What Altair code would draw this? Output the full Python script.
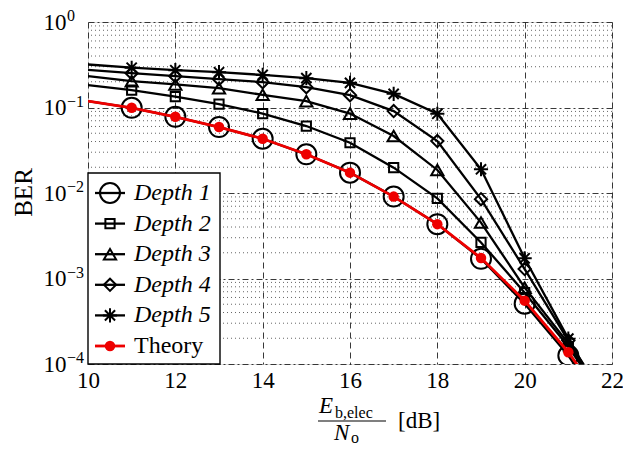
import altair as alt
import pandas as pd

# ---------------- data ----------------
ebno = [10, 11, 12, 13, 14, 15, 16, 17, 18, 19, 20, 21, 22]
theory = [0.1188, 0.0992, 0.0779, 0.0591, 0.0431, 0.02836, 0.0173, 0.00908, 0.00432, 0.001734, 0.000551, 0.0001373, 0.000026]
depth1 = [0.1188, 0.0992, 0.0779, 0.0591, 0.0431, 0.02836, 0.0173, 0.00908, 0.00432, 0.00170, 0.000508, 0.0001257, 0.000022]
depth2 = [0.1825, 0.1596, 0.1340, 0.1096, 0.0849, 0.0607, 0.0387, 0.01979, 0.00865, 0.002638, 0.000683, 0.0001601, 0.000028]
depth3 = [0.2325, 0.2032, 0.1861, 0.1684, 0.1407, 0.1188, 0.0849, 0.0464, 0.0186, 0.00451, 0.000781, 0.0001735, 0.00003]
depth4 = [0.2754, 0.2520, 0.2325, 0.2145, 0.1979, 0.1730, 0.1395, 0.0908, 0.0405, 0.00847, 0.001291, 0.000188, 0.00003]
depth5 = [0.3184, 0.2921, 0.2731, 0.2588, 0.2407, 0.2203, 0.1942, 0.1445, 0.0844, 0.01895, 0.001725, 0.000198, 0.000025]

depth_names = ["Depth 1", "Depth 2", "Depth 3", "Depth 4", "Depth 5"]
legend_names = depth_names + ["Theory"]

x_ticks = [10, 12, 14, 16, 18, 20, 22]
y_ticks = [1, 0.1, 0.01, 0.001, 0.0001]
y_exponents = ["0", "\u22121", "\u22122", "\u22123", "\u22124"]
y_minor = [m * d for d in [0.0001, 0.001, 0.01, 0.1] for m in [2, 3, 4, 5, 6, 7, 8, 9]]

STAR = "M-1,0L1,0M0,-1L0,1M-0.72,-0.72L0.72,0.72M-0.72,0.72L0.72,-0.72"
marker_shapes = ["circle", "square", "triangle-up", "diamond", STAR]
marker_sizes = [400, 85, 150, 150, 200]

SERIF = "Liberation Serif"

rows = []
for name, vals in zip(depth_names + ["Theory"], [depth1, depth2, depth3, depth4, depth5, theory]):
    for xv, v in zip(ebno, vals):
        rows.append({"x": xv, "ber": v, "series": name})
df = pd.DataFrame(rows)

W, H = 524, 342

xscale = alt.Scale(domain=[10, 22], nice=False, zero=False)
yscale = alt.Scale(type="log", domain=[0.0001, 1], nice=False)

X = alt.X("x:Q", scale=xscale,
          axis=alt.Axis(values=x_ticks, title=None, grid=True, gridDash=[6, 4],
                        gridColor="#222222", gridWidth=0.9, ticks=False, domain=False,
                        labelFont=SERIF, labelFontSize=23, labelColor="black",
                        labelPadding=5, labelFlush=False, labelBound=False))
Y = alt.Y("ber:Q", scale=yscale,
          axis=alt.Axis(values=y_ticks, labelExpr="'10'", grid=True, gridDash=[6, 3, 2, 3],
                        gridColor="#222222", gridWidth=0.9, ticks=False, domain=False,
                        labelFont=SERIF, labelFontSize=23, labelColor="black",
                        labelPadding=22, labelBaseline="middle", labelFlush=False,
                        labelOverlap=False, labelBound=False,
                        title="BER", titleFont=SERIF, titleFontSize=25, titleFontWeight="normal",
                        titleColor="black", titleAngle=270, titleX=-65, titleY=170,
                        titleAlign="center", titleBaseline="middle"))

base = alt.Chart(df)
depth_df = base.transform_filter(alt.datum.series != "Theory")
theory_df = base.transform_filter(alt.datum.series == "Theory")
in_range = (alt.datum.x >= 11) & (alt.datum.x <= 21)

minor = alt.Chart(pd.DataFrame({"ber": y_minor})).mark_rule(
    color="#555555", strokeDash=[1, 3], strokeWidth=0.9
).encode(y=Y)

depth_lines = depth_df.mark_line(color="black", strokeWidth=2.3, clip=True).encode(
    x=X, y=Y, detail="series:N")

depth_pts = [
    base.transform_filter(alt.datum.series == name).transform_filter(in_range).mark_point(
        shape=shp, size=sz, color="black", filled=False, strokeWidth=2, opacity=1, clip=True
    ).encode(x=X, y=Y)
    for name, shp, sz in zip(depth_names, marker_shapes, marker_sizes)
]

theory_line = theory_df.mark_line(color="#ee0000", strokeWidth=2.8, clip=True).encode(x=X, y=Y)
theory_pts = theory_df.transform_filter(in_range).mark_circle(
    color="#ee0000", size=110, opacity=1, clip=True).encode(x=X, y=Y)

exps = alt.Chart(pd.DataFrame({"ber": y_ticks, "e": y_exponents})).mark_text(
    align="left", baseline="middle", font=SERIF, fontSize=16, color="black", dy=-6
).encode(y=Y, x=alt.value(-21), text="e:N")

one = pd.DataFrame({"k": [0]})
def label(txt, x, y, size=23, style="normal", align="left", baseline="alphabetic"):
    return alt.Chart(one).mark_text(text=txt, font=SERIF, fontSize=size, fontStyle=style,
                                    align=align, baseline=baseline, color="black").encode(
        x=alt.value(x), y=alt.value(y))

xtitle = alt.layer(
    label("E", 231, 391, 23, "italic"),
    label("b,elec", 247, 396, 16),
    alt.Chart(one).mark_rule(color="black", strokeWidth=1.2).encode(
        x=alt.value(230), x2=alt.value(298), y=alt.value(399)),
    label("N", 246, 418, 23, "italic"),
    label("o", 263, 421, 16),
    label("[dB]", 310, 399, 23, baseline="middle"),
)

plot = alt.layer(minor, depth_lines, *depth_pts, theory_line, theory_pts, exps, xtitle)

# ---------------- legend ----------------
leg_df = pd.DataFrame({"series": legend_names, "row": list(range(len(legend_names)))})
LY = alt.Y("row:Q", scale=alt.Scale(domain=[0, 5], range=[171, 324]), axis=None)
leg_base = alt.Chart(leg_df)
leg_box = alt.Chart(one).mark_rect(fill="white", stroke="black", strokeWidth=1.4).encode(
    x=alt.value(0), x2=alt.value(132), y=alt.value(151), y2=alt.value(342))
leg_depth = leg_base.transform_filter(alt.datum.series != "Theory")
leg_theory = leg_base.transform_filter(alt.datum.series == "Theory")
leg_lines_d = leg_depth.mark_rule(color="black", strokeWidth=2.3).encode(
    x=alt.value(7), x2=alt.value(37), y=LY)
leg_pts_d = [
    leg_base.transform_filter(alt.datum.series == name).mark_point(
        shape=shp, size=sz, color="black", filled=False, strokeWidth=2, opacity=1
    ).encode(x=alt.value(22), y=LY)
    for name, shp, sz in zip(depth_names, marker_shapes, marker_sizes)
]
leg_lines_t = leg_theory.mark_rule(color="#ee0000", strokeWidth=2.8).encode(
    x=alt.value(7), x2=alt.value(37), y=LY)
leg_pts_t = leg_theory.mark_circle(color="#ee0000", size=110, opacity=1).encode(
    x=alt.value(22), y=LY)
leg_txt_d = leg_depth.mark_text(align="left", baseline="middle", font=SERIF, fontSize=24,
                                fontStyle="italic", color="black").encode(
    x=alt.value(46), y=LY, text="series:N")
leg_txt_t = leg_theory.mark_text(align="left", baseline="middle", font=SERIF, fontSize=24,
                                 color="black").encode(
    x=alt.value(46), y=LY, text="series:N")
legend = alt.layer(leg_box, leg_lines_d, *leg_pts_d, leg_lines_t, leg_pts_t, leg_txt_d, leg_txt_t)

chart = alt.layer(plot, legend).resolve_scale(y="independent").properties(
    width=W, height=H,
    autosize=alt.AutoSizeParams(type="none"),
    padding={"left": 80, "top": 14, "right": 11, "bottom": 82},
).configure_view(stroke="black", strokeWidth=1.3).configure(background="white")

chart.save("out.html", embed_options={"renderer": "svg", "actions": False})
